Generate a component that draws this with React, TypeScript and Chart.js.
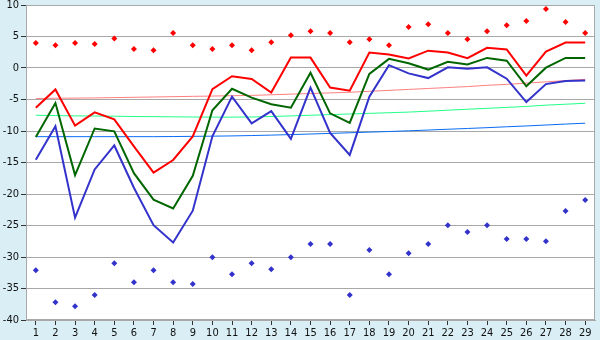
import React, { useEffect, useRef } from "react";
import { Chart, registerables } from "chart.js";

Chart.register(...registerables);

const categories = ["1","2","3","4","5","6","7","8","9","10","11","12","13","14","15","16","17","18","19","20","21","22","23","24","25","26","27","28","29"];

const redLine = [-6.3, -3.4, -9.15, -7.05, -8.15, -12.45, -16.6, -14.6, -10.85, -3.35, -1.3, -1.75, -3.9, 1.65, 1.65, -3.1, -3.6, 2.45, 2.15, 1.5, 2.75, 2.45, 1.55, 3.2, 2.95, -1.2, 2.6, 4.05, 4.05];
const greenLine = [-10.95, -5.55, -17.0, -9.6, -10.05, -16.7, -20.9, -22.3, -17.1, -6.7, -3.3, -4.7, -5.75, -6.3, -0.75, -7.2, -8.7, -0.95, 1.45, 0.75, -0.25, 1.0, 0.55, 1.6, 1.15, -2.9, 0.05, 1.6, 1.6];
const blueLine = [-14.55, -9.25, -23.75, -16.1, -12.3, -19.0, -24.95, -27.7, -22.65, -10.85, -4.55, -8.8, -6.85, -11.25, -3.1, -10.3, -13.8, -4.55, 0.45, -0.85, -1.6, 0.1, -0.1, 0.1, -1.7, -5.4, -2.55, -2.05, -2.0];

const redDots = [3.95, 3.6, 3.95, 3.8, 4.7, 3.0, 2.8, 5.55, 3.6, 3.0, 3.6, 2.8, 4.1, 5.2, 5.85, 5.55, 4.1, 4.55, 3.6, 6.5, 6.95, 5.55, 4.55, 5.85, 6.8, 7.45, 9.35, 7.3, 5.55];
const blueDots = [-32.1, -37.2, -37.8, -36.05, -31.0, -34.0, -32.1, -34.0, -34.3, -30.05, -32.75, -31.0, -31.95, -30.05, -27.95, -27.95, -36.05, -28.9, -32.75, -29.4, -27.95, -24.95, -26.05, -24.95, -27.15, -27.15, -27.5, -22.7, -20.95];

const redTrend = [-4.85, -4.8, -4.78, -4.75, -4.7, -4.65, -4.6, -4.55, -4.5, -4.45, -4.4, -4.35, -4.25, -4.15, -4.05, -3.95, -3.85, -3.7, -3.55, -3.4, -3.25, -3.1, -2.95, -2.75, -2.6, -2.4, -2.2, -2.0, -1.8];
const greenTrend = [-7.5, -7.55, -7.6, -7.62, -7.65, -7.7, -7.72, -7.75, -7.78, -7.8, -7.8, -7.78, -7.7, -7.6, -7.5, -7.4, -7.3, -7.2, -7.1, -7.0, -6.85, -6.7, -6.55, -6.4, -6.25, -6.1, -5.9, -5.75, -5.6];
const blueTrend = [-10.9, -10.9, -10.9, -10.9, -10.9, -10.9, -10.9, -10.88, -10.85, -10.82, -10.78, -10.72, -10.65, -10.57, -10.48, -10.38, -10.28, -10.18, -10.08, -9.97, -9.85, -9.72, -9.6, -9.47, -9.33, -9.2, -9.05, -8.9, -8.76];

const yMin = -40;
const yMax = 10;
const yStep = 5;

const FONT = "'DejaVu Sans Condensed', 'Liberation Sans', sans-serif";

const bgPlugin = {
  id: "bgPlugin",
  beforeDraw(chart: any) {
    const { ctx, chartArea, width, height } = chart;
    ctx.save();
    ctx.fillStyle = "#d9eef5";
    ctx.fillRect(0, 0, width, height);
    ctx.fillStyle = "#ffffff";
    ctx.fillRect(chartArea.left, chartArea.top, chartArea.right - chartArea.left, chartArea.bottom - chartArea.top);
    ctx.restore();
  },
  afterDraw(chart: any) {
    const { ctx, chartArea } = chart;
    ctx.save();
    ctx.strokeStyle = "#a8a8a8";
    ctx.lineWidth = 1;
    ctx.strokeRect(Math.round(chartArea.left) + 0.5, Math.round(chartArea.top) + 0.5, Math.round(chartArea.right - chartArea.left) - 1, Math.round(chartArea.bottom - chartArea.top) - 1);
    ctx.restore();
  },
};

const lineDs = (data: number[], color: string, width: number, order: number) => ({
  data,
  borderColor: color,
  backgroundColor: color,
  borderWidth: width,
  pointRadius: 0,
  tension: 0,
  fill: false,
  order,
});

const dotDs = (data: number[], color: string, order: number) => ({
  data,
  borderColor: color,
  backgroundColor: color,
  showLine: false,
  pointStyle: "rectRot",
  pointRadius: 3,
  pointBorderWidth: 0,
  order,
});

export default function App() {
  const ref = useRef<HTMLCanvasElement>(null);
  useEffect(() => {
    if (!ref.current) return;
    const chart = new Chart(ref.current, {
      type: "line",
      data: {
        labels: categories,
        datasets: [
          dotDs(redDots, "#ff0000", 0) as any,
          dotDs(blueDots, "#3333cc", 0) as any,
          lineDs(redLine, "#ff0000", 2, 1),
          lineDs(greenLine, "#006600", 2, 2),
          lineDs(blueLine, "#3333cc", 2, 3),
          lineDs(redTrend, "#ff8080", 1, 4),
          lineDs(greenTrend, "#22ff88", 1, 5),
          lineDs(blueTrend, "#0a6cf5", 1, 6),
        ],
      },
      options: {
        responsive: false,
        animation: false,
        layout: { padding: { top: 5, right: 5, left: 0, bottom: 0 } },
        plugins: { legend: { display: false }, tooltip: { enabled: false } },
        scales: {
          x: {
            offset: true,
            grid: { display: true, drawOnChartArea: false, offset: false, tickLength: 5, tickColor: "#333333" },
            border: { display: true, color: "#a8a8a8" },
            ticks: { color: "#111111", font: { family: FONT, size: 11 }, padding: 2, maxRotation: 0, autoSkip: false },
            afterFit: (s: any) => { s.height = 20; s.paddingLeft = 0; s.paddingRight = 0; },
          },
          y: {
            min: yMin,
            max: yMax,
            grid: { color: "#a8a8a8", tickLength: 5, tickColor: "#333333" },
            border: { display: true, color: "#a8a8a8" },
            ticks: { stepSize: yStep, color: "#111111", font: { family: FONT, size: 11 }, padding: 2 },
            afterFit: (s: any) => { s.width = 26; s.paddingTop = 0; s.paddingBottom = 0; },
          },
        },
      },
      plugins: [bgPlugin],
    });
    return () => chart.destroy();
  }, []);
  return (
    <canvas
      ref={ref}
      width={600}
      height={340}
      style={{ position: "fixed", left: 0, top: 0, display: "block", width: 600, height: 340 }}
    />
  );
}
